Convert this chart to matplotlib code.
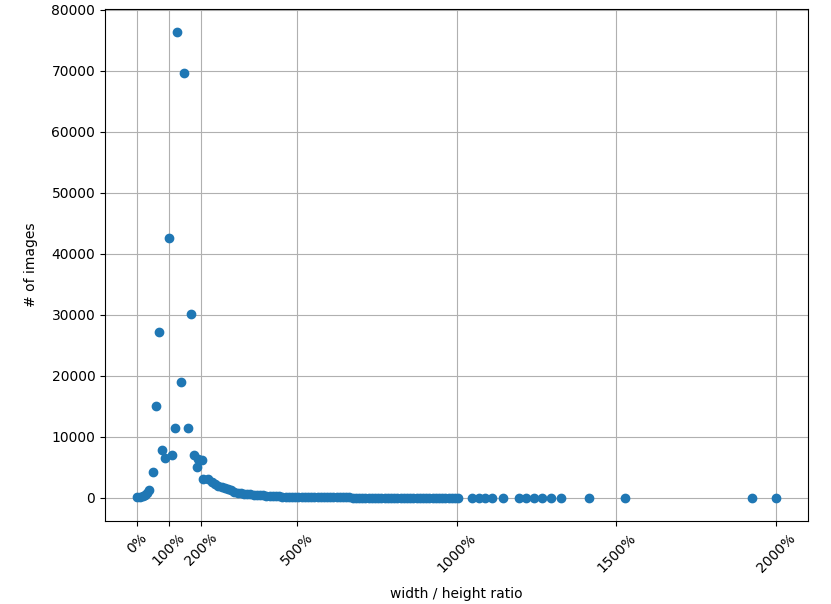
import matplotlib
matplotlib.use("Agg")
from matplotlib import pyplot as plt

# width/height ratio in percent, and number of images at that ratio
ratio = [0, 9, 18, 25, 31, 37, 50, 58, 70, 79, 89, 100, 110, 119, 125, 137,
         147, 160, 170, 179, 188, 192, 203, 208, 223, 235, 245, 255, 265, 275,
         285, 295, 305, 315, 325, 335, 345, 355, 365, 375, 385, 395, 405, 415,
         425, 435, 445, 455, 465, 475, 485, 495, 505, 515, 525, 535, 545, 555,
         565, 575, 585, 595, 605, 615, 625, 635, 645, 655, 665, 675, 685, 695,
         705, 715, 725, 735, 745, 755, 765, 775, 785, 795, 805, 815, 825, 835,
         845, 855, 865, 875, 885, 895, 905, 915, 925, 935, 945, 955, 965, 975,
         985, 995, 1005, 1050, 1070, 1090, 1110, 1147, 1197, 1219, 1244, 1269,
         1297, 1328, 1416, 1528, 1925, 2000]
n_images = [50, 150, 250, 500, 800, 1200, 4300, 15100, 27200, 7800, 6500,
            42600, 7000, 11400, 76300, 18900, 69700, 11500, 30100, 7000, 5100,
            6300, 6200, 3000, 3000, 2600, 2300, 2000, 1800, 1600, 1400, 1200,
            1000, 850, 750, 650, 600, 550, 500, 450, 420, 380, 340, 300,
            250, 230, 220, 200, 190, 180, 170, 160, 150, 140, 130, 120, 110,
            100, 95, 90, 85, 80, 70, 65, 60, 55, 50, 45, 40, 38, 35, 32, 30,
            28, 26, 24, 22, 20, 19, 18, 17, 16, 15, 14, 13, 12, 11, 10, 10, 9,
            9, 8, 8, 7, 7, 6, 6, 5, 5, 5, 4, 4, 4, 3, 3, 3, 3, 2, 2, 2, 2, 2,
            2, 2, 1, 1, 1, 1]

xticks = [0, 100, 200, 500, 1000, 1500, 2000]
xticklabels = [str(t) + '%' for t in xticks]

fig = plt.figure(figsize=(8.31, 6.04), dpi=100)
ax = fig.add_axes([0.1264, 0.1374, 0.8459, 0.8477])
ax.scatter(ratio, n_images)
ax.set_xticks(xticks)
ax.set_xticklabels(xticklabels, rotation=45)
ax.grid(True)
ax.set_axisbelow(True)
ax.set_xlabel('width / height ratio', labelpad=8.5)
ax.set_ylabel('# of images', labelpad=9.5)

plt.savefig('out.png', dpi=100)
